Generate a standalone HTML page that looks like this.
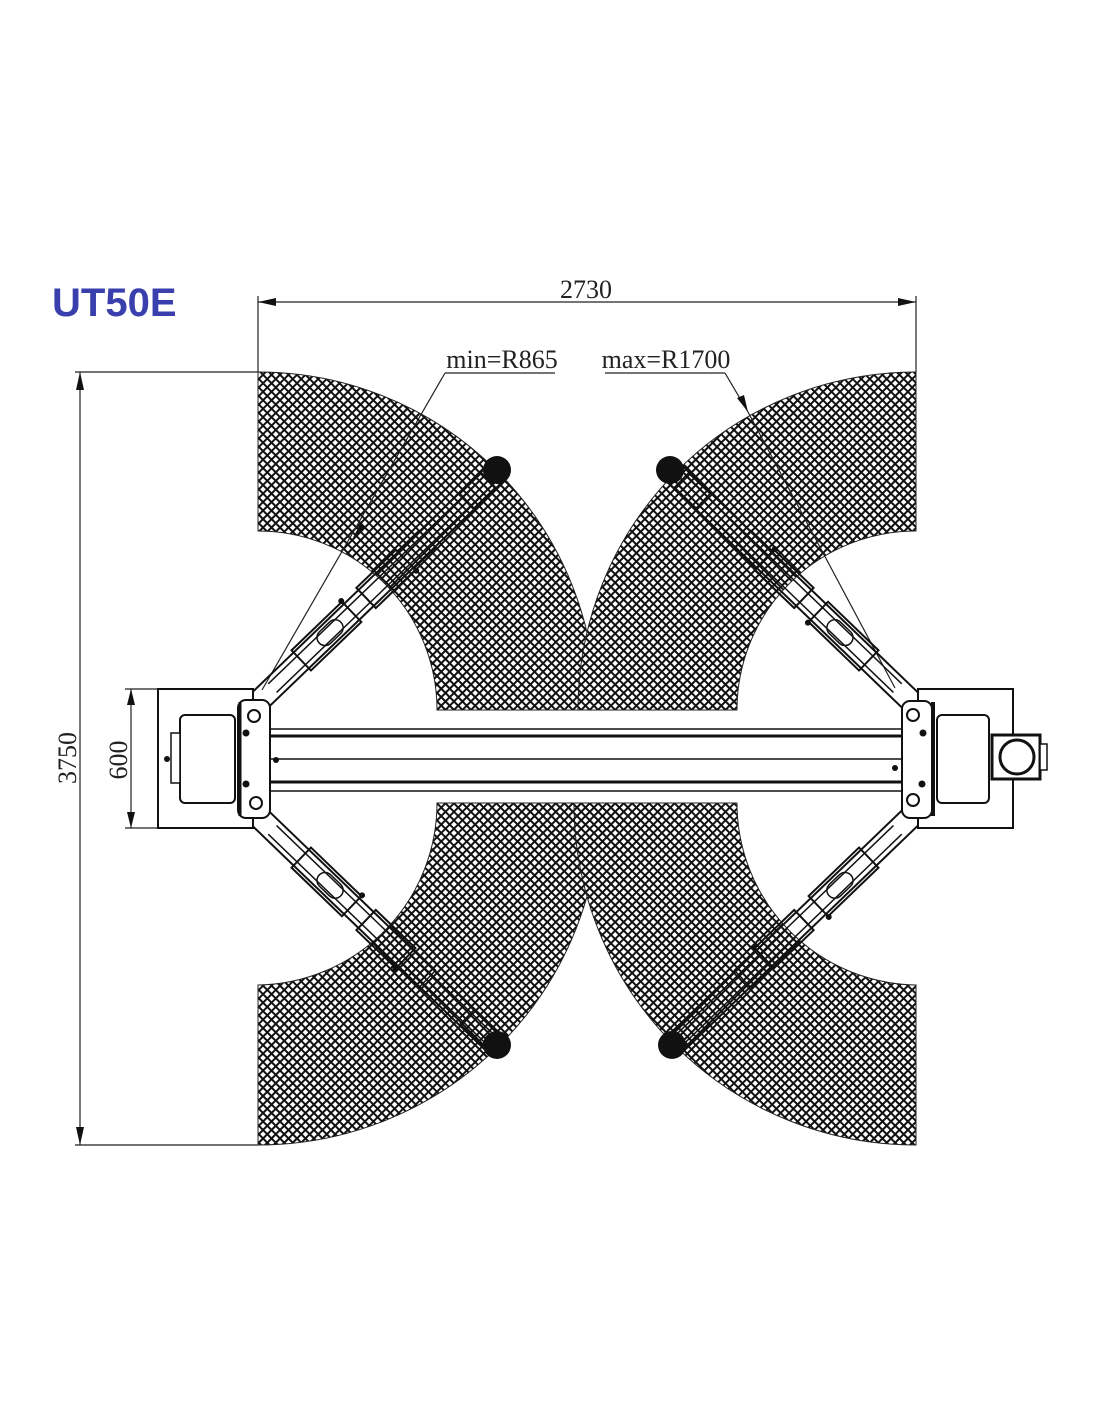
<!DOCTYPE html>
<html><head><meta charset="utf-8"><style>
html,body{margin:0;padding:0;background:#fff;}
svg{display:block}
</style></head><body>
<svg width="1100" height="1422" viewBox="0 0 1100 1422" xmlns="http://www.w3.org/2000/svg">
<defs>
<pattern id="h" width="6" height="6" patternUnits="userSpaceOnUse" patternTransform="rotate(45)">
<rect width="6" height="6" fill="#fff"/>
<rect x="0" y="0" width="6" height="2" fill="#111"/>
<rect x="0" y="0" width="2" height="6" fill="#111"/>
</pattern>
<g id="arm">
<line x1="0" y1="-11" x2="330" y2="-11" stroke="#111" stroke-width="2"/>
<line x1="0" y1="11" x2="330" y2="11" stroke="#111" stroke-width="2"/>
<line x1="20" y1="-6" x2="320" y2="-6" stroke="#111" stroke-width="1.5"/>
<line x1="20" y1="6" x2="320" y2="6" stroke="#111" stroke-width="1.5"/>
<rect x="60" y="-14" width="70" height="28" fill="none" stroke="#111" stroke-width="2"/>
<rect x="85" y="-8" width="30" height="16" rx="8" fill="none" stroke="#111" stroke-width="1.5"/>
<rect x="150" y="-14" width="55" height="28" fill="none" stroke="#111" stroke-width="2"/>
<rect x="205" y="-12" width="30" height="24" fill="none" stroke="#111" stroke-width="1.5"/>
<rect x="290" y="-10" width="30" height="20" fill="none" stroke="#111" stroke-width="1.5"/>
<circle cx="130" cy="-15" r="3" fill="#111"/><circle cx="205" cy="15" r="3" fill="#111"/>
</g>
</defs>

<text x="52" y="316" font-family="Liberation Sans, sans-serif" font-weight="bold" font-size="40" fill="#3a3fae">UT50E</text>

<path d="M258,372 A338,338 0 0 1 596,710 L437,710 A179,179 0 0 0 258,531 Z" fill="url(#h)" stroke="#222" stroke-width="1"/>
<path d="M916,372 A338,338 0 0 0 578,710 L737,710 A179,179 0 0 1 916,531 Z" fill="url(#h)" stroke="#222" stroke-width="1"/>
<path d="M258,1145 A342,342 0 0 0 600,803 L437,803 A182,182 0 0 1 258,985 Z" fill="url(#h)" stroke="#222" stroke-width="1"/>
<path d="M916,1145 A342,342 0 0 1 574,803 L737,803 A182,182 0 0 0 916,985 Z" fill="url(#h)" stroke="#222" stroke-width="1"/>

<g stroke="#222" stroke-width="1.2" fill="none">
<line x1="258" y1="296" x2="258" y2="372"/><line x1="916" y1="296" x2="916" y2="372"/>
<line x1="258" y1="302" x2="916" y2="302"/>
<line x1="75" y1="372" x2="258" y2="372"/><line x1="75" y1="1145" x2="258" y2="1145"/>
<line x1="80" y1="372" x2="80" y2="1145"/>
<line x1="125" y1="689" x2="158" y2="689"/><line x1="125" y1="828" x2="158" y2="828"/>
<line x1="131" y1="689" x2="131" y2="828"/>
<line x1="445" y1="373" x2="555" y2="373"/><line x1="605" y1="373" x2="725" y2="373"/>
<line x1="445" y1="373" x2="262" y2="690"/>
<line x1="725" y1="373" x2="748" y2="412"/><line x1="748" y1="412" x2="895" y2="688"/>
</g>
<g fill="#111">
<polygon points="258,302 276,298 276,306"/><polygon points="916,302 898,298 898,306"/>
<polygon points="80,372 76,390 84,390"/><polygon points="80,1145 76,1127 84,1127"/>
<polygon points="131,689 127,705 135,705"/><polygon points="131,828 127,812 135,812"/>
<polygon points="748,412 737,398 744,395"/><polygon points="352,540 360,524 365,528"/>
</g>
<g font-family="Liberation Serif, serif" font-size="26" fill="#222">
<text x="586" y="298" text-anchor="middle">2730</text>
<text x="502" y="368" text-anchor="middle">min=R865</text>
<text x="666" y="368" text-anchor="middle">max=R1700</text>
<text transform="translate(76,758) rotate(-90)" text-anchor="middle">3750</text>
<text transform="translate(127,760) rotate(-90)" text-anchor="middle">600</text>
</g>

<use href="#arm" transform="translate(258,702) rotate(-43.9)"/>
<use href="#arm" transform="translate(912,702) rotate(-136.1)"/>
<use href="#arm" transform="translate(258,816) rotate(43.9)"/>
<use href="#arm" transform="translate(912,816) rotate(136.1)"/>
<g fill="#111">
<circle cx="497" cy="470" r="14"/><circle cx="670" cy="470" r="14"/>
<circle cx="497" cy="1045" r="14"/><circle cx="672" cy="1045" r="14"/>
</g>

<rect x="268" y="728" width="640" height="64" fill="#fff"/>
<g stroke="#111">
<line x1="268" y1="729" x2="908" y2="729" stroke-width="1.5"/>
<line x1="268" y1="736" x2="908" y2="736" stroke-width="3"/>
<line x1="268" y1="759" x2="908" y2="759" stroke-width="1.5"/>
<line x1="268" y1="782" x2="908" y2="782" stroke-width="3"/>
<line x1="268" y1="791" x2="908" y2="791" stroke-width="1.5"/>
</g>

<g stroke="#111" fill="#fff" stroke-width="2">
<rect x="158" y="689" width="95" height="139"/>
<rect x="180" y="715" width="55" height="88" rx="5"/>
<rect x="171" y="733" width="9" height="50" stroke-width="1.5"/>
<rect x="238" y="700" width="32" height="118" rx="8"/>
<line x1="240" y1="702" x2="240" y2="816" stroke-width="3"/>
<circle cx="254" cy="716" r="6"/><circle cx="256" cy="803" r="6"/>
</g>
<g fill="#111"><circle cx="246" cy="733" r="3.5"/><circle cx="246" cy="784" r="3.5"/><circle cx="276" cy="760" r="3"/><circle cx="167" cy="759" r="3"/></g>

<g stroke="#111" fill="#fff" stroke-width="2">
<rect x="918" y="689" width="95" height="139"/>
<rect x="937" y="715" width="52" height="88" rx="5"/>
<rect x="902" y="701" width="30" height="117" rx="8"/>
<line x1="933" y1="702" x2="933" y2="816" stroke-width="4"/>
<rect x="992" y="735" width="48" height="44" stroke-width="3"/>
<circle cx="1017" cy="757" r="17" stroke-width="3"/>
<rect x="1040" y="744" width="7" height="26" stroke-width="1.5"/>
<circle cx="913" cy="715" r="6"/><circle cx="913" cy="800" r="6"/>
</g>
<g fill="#111"><circle cx="923" cy="733" r="3.5"/><circle cx="922" cy="784" r="3.5"/><circle cx="895" cy="768" r="3"/></g>
</svg>
</body></html>
